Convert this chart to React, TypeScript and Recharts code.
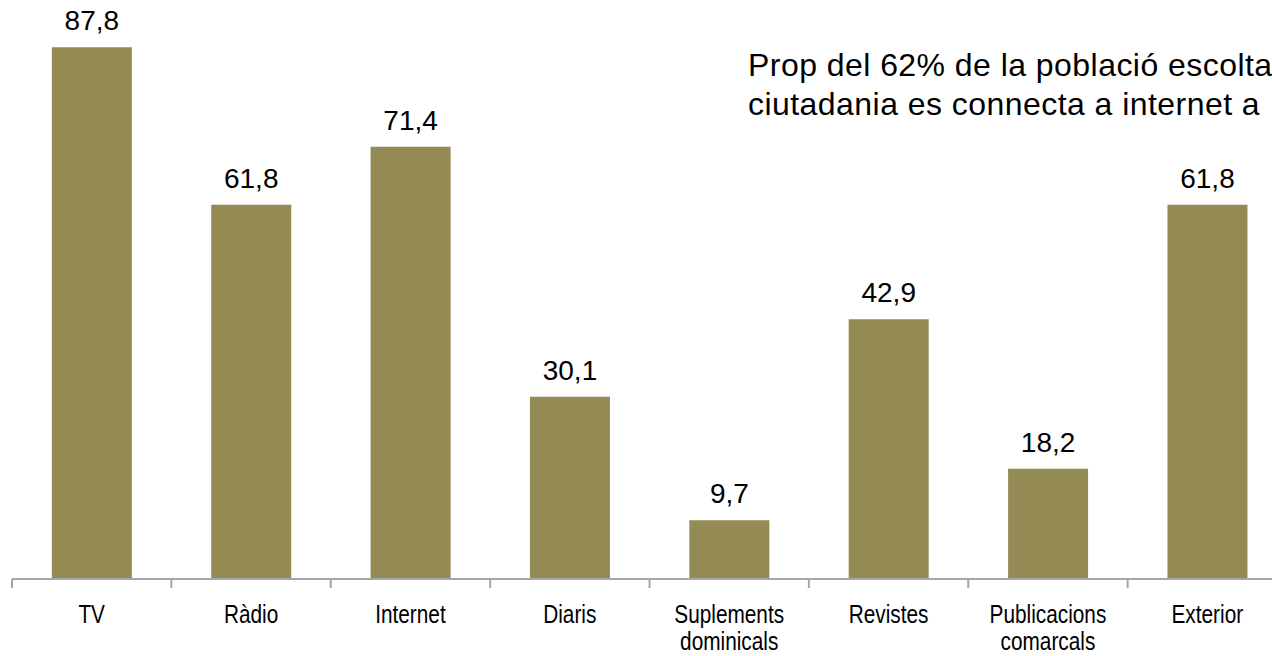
import React from 'react';
import { BarChart, Bar, XAxis, YAxis, LabelList } from 'recharts';

const categories = ['TV', 'Ràdio', 'Internet', 'Diaris', 'Suplements dominicals', 'Revistes', 'Publicacions comarcals', 'Exterior'];
const values = [87.8, 61.8, 71.4, 30.1, 9.7, 42.9, 18.2, 61.8];
const titleLines = ['Prop del 62% de la població escolta', 'ciutadania es connecta a internet a'];

const data = categories.map((name, i) => ({ name, value: values[i] }));

const CHART_W = 1300;
const MARGIN_L = 12;
const MARGIN_R = 13;
const HALF_BAND = (CHART_W - MARGIN_L - MARGIN_R) / categories.length / 2;
const AXIS_COLOR = '#a6a6a6';
const SANS = '"Liberation Sans", Arial, sans-serif';

const CatTick = (props: any) => {
  const { x, y, payload, index } = props;
  const lines = String(payload.value).split(' ');
  const isLast = index === categories.length - 1;
  return (
    <g>
      <line x1={x - HALF_BAND} x2={x - HALF_BAND} y1={y} y2={y + 9} stroke={AXIS_COLOR} strokeWidth={2} />
      {isLast && <line x1={x + HALF_BAND} x2={x + HALF_BAND} y1={y} y2={y + 9} stroke={AXIS_COLOR} strokeWidth={2} />}
      <text
        x={x}
        y={y}
        textAnchor="middle"
        fontFamily={SANS}
        fontSize={26}
        fill="#000"
        transform={`translate(${x} 0) scale(0.8 1) translate(${-x} 0)`}
      >
        {lines.map((l, i) => (
          <tspan key={i} x={x} dy={i === 0 ? 44 : 27}>{l}</tspan>
        ))}
      </text>
    </g>
  );
};

const fmt = (v: any) => Number(v).toFixed(1).replace('.', ',');

export default function App() {
  return (
    <div style={{ position: 'absolute', left: 0, top: 0, width: 1272, height: 656, overflow: 'hidden', background: '#fff' }}>
      <BarChart
        width={CHART_W}
        height={656}
        data={data}
        margin={{ top: 34, right: MARGIN_R, left: MARGIN_L, bottom: 0 }}
        barCategoryGap="25%"
      >
        <XAxis
          dataKey="name"
          interval={0}
          height={77}
          tickSize={0}
          tickMargin={0}
          tickLine={false}
          axisLine={{ stroke: AXIS_COLOR, strokeWidth: 2 }}
          tick={<CatTick />}
        />
        <YAxis hide domain={[0, 90]} />
        <Bar dataKey="value" fill="#948A54" isAnimationActive={false}>
          <LabelList
            dataKey="value"
            position="top"
            offset={17}
            formatter={fmt}
            fill="#000"
            fontSize={28}
            fontFamily={SANS}
          />
        </Bar>
      </BarChart>
      <div
        style={{
          position: 'absolute',
          left: 748,
          top: 46,
          fontFamily: SANS,
          fontSize: 32,
          lineHeight: '39px',
          letterSpacing: '0.45px',
          whiteSpace: 'nowrap',
          color: '#000',
        }}
      >
        {titleLines.map((t, i) => (
          <div key={i}>{t}</div>
        ))}
      </div>
    </div>
  );
}
